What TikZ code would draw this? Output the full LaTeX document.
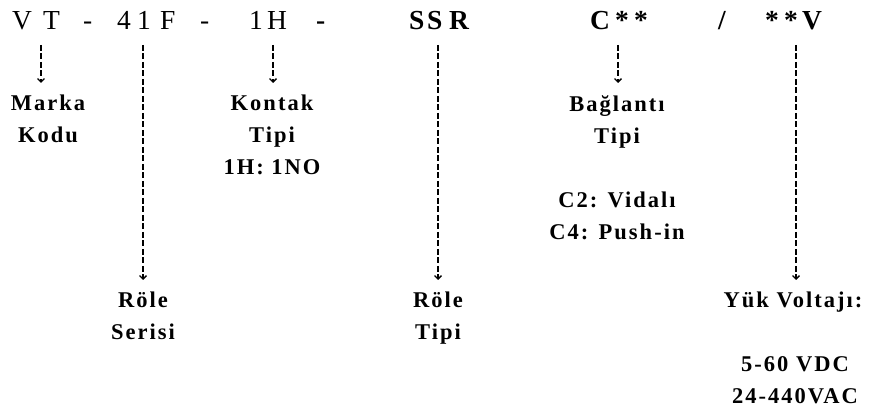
\documentclass[tikz,border=0pt]{standalone}
\usepackage{fontspec}
\setmainfont{Liberation Serif}
\newfontfamily\labelfont[LetterSpace=9]{Liberation Serif}
\usetikzlibrary{arrows.meta}

\tikzset{
	code/.style={anchor=base west, inner sep=0pt, font=\fontsize{27.5}{32}\selectfont},
	codebold/.style={code, font=\fontsize{27.5}{32}\selectfont\bfseries},
	lbl/.style={anchor=north, inner sep=0pt, align=center, font=\labelfont\fontsize{22.5}{32}\selectfont\bfseries},
	pointer/.style={dash pattern=on 6pt off 2.5pt, line width=1.3pt, -{Straight Barb[length=3.5pt,width=7pt]}, shorten >=12pt}
}

\begin{document}
\begin{tikzpicture}[x=1pt, y=-1pt]
		\useasboundingbox (0,0) rectangle (883,411);

		% code letters
		\foreach \x/\c [count=\i] in {12/V, 43/T, 83/-, 117/4, 137/1, 160/F, 200/-, 249/1, 267/H}
			\node[code] (r\i) at (\x,30) {\c};
		\foreach \x/\c [count=\i] in {316/-, 409/S, 427/S, 449/R, 590/C, 615/*, 634/*, 718/{/}, 765/*, 784/*, 802/V}
			\node[codebold] (b\i) at (\x,30) {\c};

		% labels
		\node[lbl] (marka) at (48,95) {Marka\\Kodu};
		\node[lbl] (kontak) at (272,95) {Kontak\\Tipi\\1H: 1NO};
		\node[lbl] (baglanti) at (617,95) {Bağlantı\\Tipi};
		\node[lbl] (secenek) at (617,192) {C2: Vidalı\\C4: Push-in};
		\node[lbl] (seri) at (143,292) {Röle\\Serisi};
		\node[lbl] (tip) at (438,292) {Röle\\Tipi};
		\node[lbl] (yuk) at (793,292) {Yük Voltajı:};
		\node[lbl] (voltaj) at (795,356) {5-60 VDC\\24-440VAC};

		% pointers
		\coordinate (p1) at (41,45);
		\coordinate (p2) at (143,45);
		\coordinate (p3) at (273,45);
		\coordinate (p4) at (438,45);
		\coordinate (p5) at (618,45);
		\coordinate (p6) at (796,45);
		\draw[pointer] (p1) -- (p1 |- marka.north);
		\draw[pointer] (p2) -- (p2 |- seri.north);
		\draw[pointer] (p3) -- (p3 |- kontak.north);
		\draw[pointer] (p4) -- (p4 |- tip.north);
		\draw[pointer] (p5) -- (p5 |- baglanti.north);
		\draw[pointer] (p6) -- (p6 |- yuk.north);
	\end{tikzpicture}
\end{document}
